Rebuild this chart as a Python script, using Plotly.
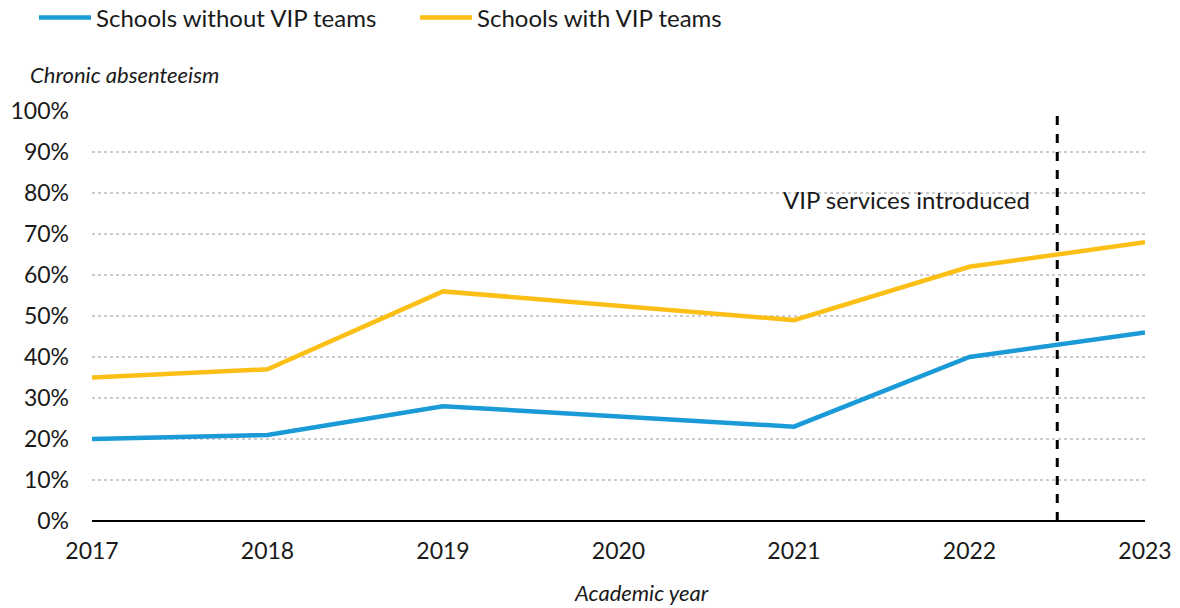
import plotly.graph_objects as go

# Chronic absenteeism by academic year (2020 not reported)
years = [2017, 2018, 2019, 2021, 2022, 2023]
without_vip = [20, 21, 28, 23, 40, 46]
with_vip = [35, 37, 56, 49, 62, 68]
y_ticks = list(range(0, 101, 10))
y_tick_text = [f"{v}%" for v in y_ticks]
x_ticks = [2017, 2018, 2019, 2020, 2021, 2022, 2023]
intro_year = 2022.5

BLUE = "#1a9ad6"
YELLOW = "#fbbf16"
FONT = "Lato"
INK = "#1a1a1a"

fig = go.Figure()
fig.add_trace(go.Scatter(x=years, y=without_vip, mode="lines", name="Schools without VIP teams",
                         line=dict(color=BLUE, width=4.5)))
fig.add_trace(go.Scatter(x=years, y=with_vip, mode="lines", name="Schools with VIP teams",
                         line=dict(color=YELLOW, width=4.5)))

# Dashed marker for when the VIP services started
fig.add_shape(type="line", x0=intro_year, x1=intro_year, y0=0, y1=100, xref="x", yref="y",
              line=dict(color="black", width=3, dash="dash"), layer="above")
fig.add_annotation(x=intro_year, y=78, xref="x", yref="y", text="VIP services introduced",
                   showarrow=False, xanchor="right", xshift=-25, yshift=2,
                   font=dict(family=FONT, size=24, color=INK))

# Axis titles
fig.add_annotation(xref="paper", yref="paper", x=-64/1053, y=1 + 36/410,
                   text="<i>Chronic absenteeism</i>", showarrow=False,
                   xanchor="left", yanchor="middle",
                   font=dict(family=FONT, size=22, color=INK))
fig.add_annotation(xref="paper", yref="paper", x=(641 - 92) / 1053, y=-71/410,
                   text="<i>Academic year</i>", showarrow=False, yanchor="middle",
                   font=dict(family=FONT, size=22, color=INK))

fig.update_layout(
    width=1180, height=608,
    margin=dict(l=92, r=35, t=111, b=87, autoexpand=False),
    paper_bgcolor="white", plot_bgcolor="white",
    font=dict(family=FONT, size=23, color=INK),
    showlegend=True,
    legend=dict(orientation="h", xref="paper", yref="paper", x=-58/1053, y=1 + 93/410,
                xanchor="left", yanchor="middle", font=dict(family=FONT, size=24, color=INK),
                itemwidth=52, entrywidth=314, entrywidthmode="pixels", traceorder="normal"),
    xaxis=dict(range=[2017, 2023], tickvals=x_ticks, ticktext=[str(v) for v in x_ticks],
               showgrid=False, zeroline=False, showline=False, ticks="",
               ticklabelstandoff=14, fixedrange=True, automargin=False),
    yaxis=dict(range=[0, 100], tickvals=y_ticks, ticktext=y_tick_text,
               showgrid=True, gridcolor="#cccccc", griddash="dot", gridwidth=2,
               zeroline=True, zerolinecolor="black", zerolinewidth=2,
               showline=False, ticks="", ticklabelstandoff=22, fixedrange=True,
               automargin=False),
)

fig.write_html("out.html")
